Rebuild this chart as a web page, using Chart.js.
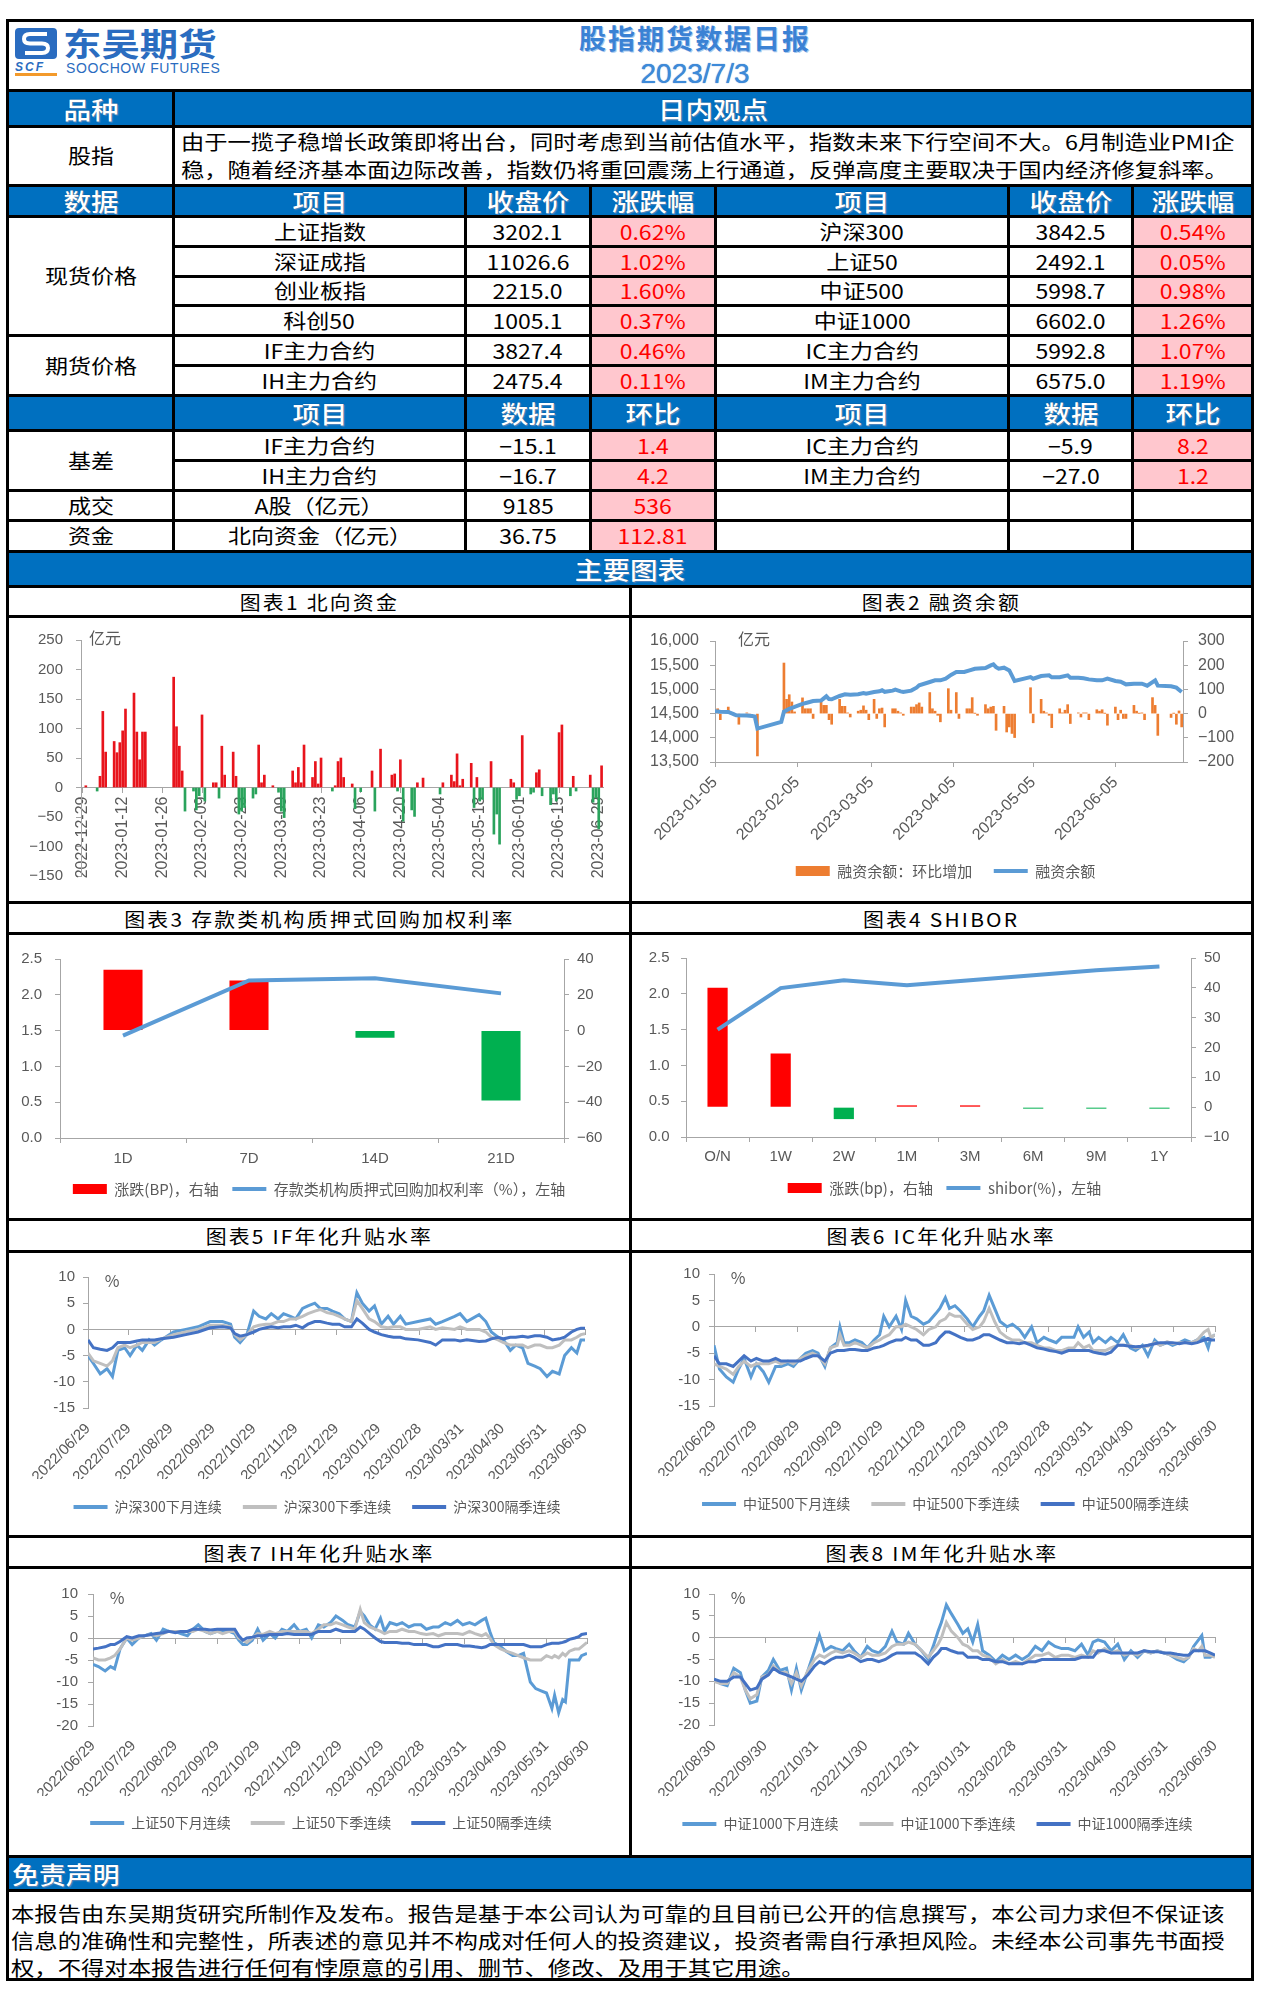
<!DOCTYPE html>
<html lang="zh-CN">
<head>
<meta charset="utf-8">
<title>股指期货数据日报</title>
<script src="https://cdn.jsdelivr.net/npm/chart.js@4.4.1/dist/chart.umd.min.js"></script>
<style>
  html, body { margin: 0; padding: 0; background: #fff; }
  #page { position: relative; width: 1262px; height: 1997px; overflow: hidden;
          font-family: 'Noto Sans CJK SC', sans-serif; color: #000; }
  .grid { position: absolute; left: 6px; display: grid; gap: 3px; padding: 3px; background: #000; }
  .grid > div { background: #fff; display: flex; align-items: center; justify-content: center;
                position: relative; overflow: hidden; white-space: nowrap; font-size: 20px; line-height: 1; }
  .grid i { font-style: normal; display: inline-block; transform: scaleX(1.15); }
  .grid > div.blue { background: #0070c0; color: #fff; font-size: 24px; font-weight: 500;
                     text-shadow: 0 0 1px #0b3d6e, 1px 1px 1px #5a8fc7; }
  .grid > div.up { background: #ffc7ce; color: #ff0000; }
  #tbl { top: 19px;
         grid-template-columns: 163px 289px 122px 122px 290px 121px 117px;
         grid-template-rows: 67px 33px 56px 28px 27px 27px 26px 27px 27px 27px 32px 27px 27px 27px 28px 32px; }
  .head .icon { position: absolute; left: 6px; top: 6px; }
  .head .cn { position: absolute; left: 54px; top: 4px; font-size: 32px; font-weight: 700; color: #2a6cc0;
              transform: scaleX(1.2); transform-origin: left center; line-height: 32px; }
  .head .scf { position: absolute; left: 6px; top: 39px; width: 42px; font: italic 700 12px 'Liberation Sans', sans-serif;
               color: #2a6cc0; border-bottom: 3px solid #f39a2b; letter-spacing: 2px; line-height: 12px; }
  .head .en { position: absolute; left: 57px; top: 39px; font: 14px 'Liberation Sans Narrow', sans-serif;
              letter-spacing: 0.6px; color: #2a6cc0; line-height: 14px; }
  .head .title { position: absolute; left: 686px; transform: translateX(-50%); color: #3b82d4; }
  .head .t1 { top: 1px; font-size: 27px; font-weight: 700; letter-spacing: 2px; line-height: 30px;
              text-shadow: 1px 1px 0 #a9c9ef; }
  .head .t2 { top: 37px; font: 28px 'Liberation Sans', sans-serif; line-height: 30px; color: #3d8ad9;
              text-shadow: 0 0 1px #2a6cc0; }
  .view { justify-content: flex-start !important; flex-direction: column; align-items: flex-start !important;
          padding: 0 0 0 6px; }
  .view span, .note span { display: block; transform-origin: left center; }
  .view span { line-height: 28px; transform: scaleX(1.163); }
  #charts { top: 585px; grid-template-columns: 620px 619px;
            grid-template-rows: 27px 283px 28px 283px 29px 282px 28px 286px; }
  #charts > div.ttl { font-size: 19px; letter-spacing: 2px; }
  #charts > div.ttl i { transform: scaleX(1.1); }
  #charts canvas { display: block; }
  .unit { position: absolute; transform: translate(-50%, -50%); font-size: 16px; color: #595959; }
  #foot { top: 1855px; grid-template-columns: 1242px; grid-template-rows: 31px 86px; }
  #foot > div.blue { justify-content: flex-start; padding-left: 3px; }
  #foot > div.blue i { transform-origin: left center; transform: scaleX(1.12); }
  .note { justify-content: flex-start !important; align-items: flex-start !important; flex-direction: column;
          padding: 8px 0 0 2px; box-sizing: border-box; }
  .note span { line-height: 27px; transform: scaleX(1.167); }
</style>
</head>
<body>
<div id="page">
  <div class="grid" id="tbl">
    <div class="head" style="grid-column: 1 / 8;">
      <svg class="icon" width="42" height="31" viewBox="0 0 42 31">
        <rect x="0" y="0" width="42" height="31" rx="4" fill="#2a6cc0"/>
        <path d="M32 6 H15 Q9 6 9 11 Q9 15.5 15 15.5 H27 Q33 15.5 33 20 Q33 25 27 25 H10"
              stroke="#fff" stroke-width="4" fill="none"/>
      </svg>
      <div class="cn">东吴期货</div>
      <div class="scf">SCF</div>
      <div class="en">SOOCHOW FUTURES</div>
      <div class="title t1">股指期货数据日报</div>
      <div class="title t2">2023/7/3</div>
    </div>

    <div class="blue"><i>品种</i></div>
    <div class="blue" style="grid-column: 2 / 8;"><i>日内观点</i></div>

    <div><i>股指</i></div>
    <div class="view" style="grid-column: 2 / 8;">
      <span>由于一揽子稳增长政策即将出台，同时考虑到当前估值水平，指数未来下行空间不大。6月制造业PMI企</span>
      <span>稳，随着经济基本面边际改善，指数仍将重回震荡上行通道，反弹高度主要取决于国内经济修复斜率。</span>
    </div>

    <div class="blue"><i>数据</i></div>
    <div class="blue"><i>项目</i></div>
    <div class="blue"><i>收盘价</i></div>
    <div class="blue"><i>涨跌幅</i></div>
    <div class="blue"><i>项目</i></div>
    <div class="blue"><i>收盘价</i></div>
    <div class="blue"><i>涨跌幅</i></div>

    <div style="grid-column: 1; grid-row: 5 / 9;"><i>现货价格</i></div>
    <div><i>上证指数</i></div><div><i>3202.1</i></div><div class="up"><i>0.62%</i></div>
    <div><i>沪深300</i></div><div><i>3842.5</i></div><div class="up"><i>0.54%</i></div>
    <div><i>深证成指</i></div><div><i>11026.6</i></div><div class="up"><i>1.02%</i></div>
    <div><i>上证50</i></div><div><i>2492.1</i></div><div class="up"><i>0.05%</i></div>
    <div><i>创业板指</i></div><div><i>2215.0</i></div><div class="up"><i>1.60%</i></div>
    <div><i>中证500</i></div><div><i>5998.7</i></div><div class="up"><i>0.98%</i></div>
    <div><i>科创50</i></div><div><i>1005.1</i></div><div class="up"><i>0.37%</i></div>
    <div><i>中证1000</i></div><div><i>6602.0</i></div><div class="up"><i>1.26%</i></div>

    <div style="grid-column: 1; grid-row: 9 / 11;"><i>期货价格</i></div>
    <div><i>IF主力合约</i></div><div><i>3827.4</i></div><div class="up"><i>0.46%</i></div>
    <div><i>IC主力合约</i></div><div><i>5992.8</i></div><div class="up"><i>1.07%</i></div>
    <div><i>IH主力合约</i></div><div><i>2475.4</i></div><div class="up"><i>0.11%</i></div>
    <div><i>IM主力合约</i></div><div><i>6575.0</i></div><div class="up"><i>1.19%</i></div>

    <div class="blue"></div>
    <div class="blue"><i>项目</i></div>
    <div class="blue"><i>数据</i></div>
    <div class="blue"><i>环比</i></div>
    <div class="blue"><i>项目</i></div>
    <div class="blue"><i>数据</i></div>
    <div class="blue"><i>环比</i></div>

    <div style="grid-column: 1; grid-row: 12 / 14;"><i>基差</i></div>
    <div><i>IF主力合约</i></div><div><i>−15.1</i></div><div class="up"><i>1.4</i></div>
    <div><i>IC主力合约</i></div><div><i>−5.9</i></div><div class="up"><i>8.2</i></div>
    <div><i>IH主力合约</i></div><div><i>−16.7</i></div><div class="up"><i>4.2</i></div>
    <div><i>IM主力合约</i></div><div><i>−27.0</i></div><div class="up"><i>1.2</i></div>

    <div><i>成交</i></div>
    <div><i>A股（亿元）</i></div><div><i>9185</i></div><div class="up"><i>536</i></div>
    <div></div><div></div><div></div>

    <div><i>资金</i></div>
    <div><i>北向资金（亿元）</i></div><div><i>36.75</i></div><div class="up"><i>112.81</i></div>
    <div></div><div></div><div></div>

    <div class="blue" style="grid-column: 1 / 8;"><i>主要图表</i></div>
  </div>

  <div class="grid" id="charts">
    <div class="ttl"><i>图表1 北向资金</i></div>
    <div class="ttl"><i>图表2 融资余额</i></div>
    <div><canvas id="c1" width="620" height="283"></canvas><span class="unit" style="left:96px;top:19px;">亿元</span></div>
    <div><canvas id="c2" width="619" height="283"></canvas><span class="unit" style="left:122px;top:20px;">亿元</span></div>
    <div class="ttl"><i>图表3 存款类机构质押式回购加权利率</i></div>
    <div class="ttl"><i>图表4 SHIBOR</i></div>
    <div><canvas id="c3" width="620" height="283"></canvas></div>
    <div><canvas id="c4" width="619" height="283"></canvas></div>
    <div class="ttl"><i>图表5 IF年化升贴水率</i></div>
    <div class="ttl"><i>图表6 IC年化升贴水率</i></div>
    <div><canvas id="c5" width="620" height="282"></canvas><span class="unit" style="left:103px;top:27px;">%</span></div>
    <div><canvas id="c6" width="619" height="282"></canvas><span class="unit" style="left:106px;top:24px;">%</span></div>
    <div class="ttl"><i>图表7 IH年化升贴水率</i></div>
    <div class="ttl"><i>图表8 IM年化升贴水率</i></div>
    <div><canvas id="c7" width="620" height="286"></canvas><span class="unit" style="left:108px;top:28px;">%</span></div>
    <div><canvas id="c8" width="619" height="286"></canvas><span class="unit" style="left:106px;top:28px;">%</span></div>
  </div>

  <div class="grid" id="foot">
    <div class="blue"><i>免责声明</i></div>
    <div class="note">
      <span>本报告由东吴期货研究所制作及发布。报告是基于本公司认为可靠的且目前已公开的信息撰写，本公司力求但不保证该</span>
      <span>信息的准确性和完整性，所表述的意见并不构成对任何人的投资建议，投资者需自行承担风险。未经本公司事先书面授</span>
      <span>权，不得对本报告进行任何有悖原意的引用、删节、修改、及用于其它用途。</span>
    </div>
  </div>
</div>

<script>
// ---------- data ----------

// 图表1 北向资金 (亿元)
const nbTicks = ['2022-12-29', '2023-01-12', '2023-01-26', '2023-02-09', '2023-02-23', '2023-03-09', '2023-03-23',
                 '2023-04-06', '2023-04-20', '2023-05-04', '2023-05-18', '2023-06-01', '2023-06-15', '2023-06-29'];
const nbDates = [
  '2022-12-30',
  '2023-01-03', '2023-01-04', '2023-01-05', '2023-01-06', '2023-01-09', '2023-01-10', '2023-01-11', '2023-01-12',
  '2023-01-13', '2023-01-16', '2023-01-17', '2023-01-18', '2023-01-19', '2023-01-20', '2023-01-30', '2023-01-31',
  '2023-02-01', '2023-02-02', '2023-02-03', '2023-02-06', '2023-02-07', '2023-02-08', '2023-02-09', '2023-02-10',
  '2023-02-13', '2023-02-14', '2023-02-15', '2023-02-16', '2023-02-17', '2023-02-20', '2023-02-21', '2023-02-22',
  '2023-02-23', '2023-02-24', '2023-02-27', '2023-02-28',
  '2023-03-01', '2023-03-02', '2023-03-03', '2023-03-06', '2023-03-08', '2023-03-09', '2023-03-10', '2023-03-13',
  '2023-03-14', '2023-03-15', '2023-03-16', '2023-03-17', '2023-03-20', '2023-03-21', '2023-03-22', '2023-03-23',
  '2023-03-27', '2023-03-28', '2023-03-29', '2023-03-30', '2023-03-31',
  '2023-04-03', '2023-04-04', '2023-04-06', '2023-04-10', '2023-04-11', '2023-04-13', '2023-04-17', '2023-04-18',
  '2023-04-19', '2023-04-20', '2023-04-21', '2023-04-24', '2023-04-25', '2023-04-26', '2023-04-28',
  '2023-05-04', '2023-05-05', '2023-05-08', '2023-05-09', '2023-05-10', '2023-05-11', '2023-05-12', '2023-05-15',
  '2023-05-16', '2023-05-17', '2023-05-18', '2023-05-19', '2023-05-22', '2023-05-23', '2023-05-24', '2023-05-25',
  '2023-05-29', '2023-05-30', '2023-05-31',
  '2023-06-01', '2023-06-02', '2023-06-05', '2023-06-06', '2023-06-07', '2023-06-08', '2023-06-09', '2023-06-12',
  '2023-06-13', '2023-06-14', '2023-06-15', '2023-06-16', '2023-06-19', '2023-06-20', '2023-06-21', '2023-06-26',
  '2023-06-27', '2023-06-28', '2023-06-29', '2023-06-30'
];
const nbFlow = [
  3,
  -6, 19, 129, 60, 78, 59, 76, 96,
  133, 160, 94, 47, 94, 94, 187, 103,
  70, 28, -40, -6, -38, -14, 123, -23,
  8, 8, -18, 70, 21, 60, 19, -45,
  -40, -34, -18, -11,
  72, 8, 21, 3, -8, -40, -51, 28,
  8, 34, 8, 72, 17, 44, 6, 50,
  -6, 3, 44, 50, 17,
  6, -36, -7, 28, -40, 65, 21, 23,
  -6, 47, -57, -38, -49, 8, 16,
  -11, 8, 21, 10, 57, 3, 14, 41,
  -34, 17, -23, -20, 44, -79, -45, -96,
  14, 8, -20,
  -14, 88, -11, -8, 25, 30, -14, -29,
  -11, -23, 93, 106, -14, 19, -6, 21,
  -25, -17, -70, 36.75
];

// 图表2 融资余额 (亿元), days counted from 2023-01-05
const mgTicks = ['2023-01-05', '2023-02-05', '2023-03-05', '2023-04-05', '2023-05-05', '2023-06-05'];
const mgLast = '2023-06-30';
const mgBalDay = [0, 2, 5, 7, 8, 12, 14, 15, 16, 25, 26, 28, 30, 33, 35, 37, 40, 42, 43, 44,
  47, 49, 51, 54, 56, 57, 60, 62, 63, 64, 67, 68, 70, 71, 74, 76, 77, 81, 83, 85,
  87, 89, 91, 94, 96, 98, 102, 104, 105, 106, 107, 109, 111, 113, 119, 120, 123, 126, 127, 130,
  133, 134, 137, 139, 141, 144, 146, 148, 151, 153, 155, 158, 161, 163, 166, 167, 172, 174, 176];
const mgBal = [14548, 14540, 14534, 14490, 14466, 14460, 14452, 14440, 14190, 14330, 14540, 14600, 14637, 14700, 14730, 14761, 14770, 14857, 14800, 14795,
  14864, 14898, 14890, 14900, 14926, 14910, 14946, 14960, 14981, 14950, 14975, 14995, 14960, 14946, 14975, 15036, 15084, 15153, 15187, 15187,
  15221, 15300, 15359, 15360, 15393, 15427, 15440, 15496, 15517, 15460, 15427, 15448, 15393, 15173, 15255, 15220, 15276, 15290, 15250, 15250,
  15290, 15240, 15242, 15230, 15207, 15187, 15187, 15221, 15173, 15160, 15104, 15118, 15118, 15077, 15187, 15077, 15063, 15036, 14946];
const mgChgDay = [1, 2, 5, 9, 12, 13, 16, 26, 27, 28, 29, 30, 33, 34, 35, 36, 37, 40, 41, 42, 43, 44,
  47, 48, 49, 50, 51, 54, 55, 56, 57, 58, 60, 61, 62, 63, 64, 67, 68, 69, 70, 71,
  74, 75, 76, 77, 78, 81, 82, 83, 84, 85, 88, 89, 91, 92, 95, 96, 97, 98, 99,
  102, 103, 104, 105, 106, 109, 110, 111, 112, 113, 119, 120, 123, 124, 125, 126, 127,
  130, 131, 132, 133, 134, 137, 138, 139, 140, 141, 144, 145, 146, 147, 148,
  151, 152, 153, 154, 155, 158, 159, 160, 161, 162, 165, 166, 167, 172, 173, 174, 175, 176];
const mgChg = [20, -25, 27, -44, 3, -7, -175, 209, 59, 78, 48, 7, 65, 20, 20, 20, -20, 48, 34, 34, -25, -44,
  59, 30, 30, 3, -14, 10, 14, 32, 14, -25, 59, -20, 20, 23, -55, 20, 20, 10, 3, -7,
  27, 27, 37, 44, 27, 87, 20, 10, -7, -34, 103, 14, 87, -20, 20, 20, 66, 1, -7,
  37, 20, 27, 30, -69, 30, -76, -55, -82, -99, 107, -38, 59, 10, 3, -7, -58,
  20, 3, 14, 37, -41, 3, -14, 3, 3, -25, 16, 10, 16, 1, -48,
  27, -25, 14, -20, -20, 34, 10, 1, 3, -25, 66, 34, -90, -16, 1, -44, 11, -55];

// 图表3 存款类机构质押式回购加权利率
const repoTerms = ['1D', '7D', '14D', '21D'];
const repoRate = [1.43, 2.20, 2.23, 2.02];   // %, left axis
const repoChg = [34, 28, -4, -39];           // BP, right axis

// 图表4 SHIBOR
const shiborTerms = ['O/N', '1W', '2W', '1M', '3M', '6M', '9M', '1Y'];
const shibor = [1.50, 2.08, 2.19, 2.12, 2.19, 2.26, 2.33, 2.38];
const shiborChg = [40, 18, -4, 0.6, 0.6, -0.5, -0.5, -0.5];

// 图表5-7 ticks, days counted from 2022/06/29
const basisTicks = ['2022/06/29', '2022/07/29', '2022/08/29', '2022/09/29', '2022/10/29', '2022/11/29', '2022/12/29',
                    '2023/01/29', '2023/02/28', '2023/03/31', '2023/04/30', '2023/05/31', '2023/06/30'];

// 图表5 IF
const ifDays = [0, 4, 9, 14, 18, 22, 27, 31, 36, 40, 45, 49, 54, 63, 72, 81, 90, 99, 105, 108,
  112, 117, 122, 126, 131, 135, 140, 144, 149, 153, 158, 162, 167, 171, 176, 180, 185, 189, 194, 198,
  202, 207, 211, 216, 221, 225, 230, 234, 243, 252, 256, 261, 270, 274, 279, 288, 293, 297, 302, 306,
  311, 315, 320, 324, 329, 333, 338, 342, 347, 351, 356, 360, 363, 366];
const ifNextMonth = [-5, -6.5, -8.5, -7.5, -9, -4, -3.5, -5, -3, -4, -2, -3, -2, -0.5, 0, 0.5, 1.5, 1.5, 1, -1.5,
  -2.5, -1, 3.5, 2.5, 2, 3, 2, 3, 2.5, 2, 4, 4.5, 5, 4, 4, 3.5, 3, 2, 1.5, 7,
  5, 3.5, 4.5, 1, 2.5, 1, 2.5, 1, 1.5, 2, 1, 1.5, 2.5, 3, 1.5, 2.8, 1.5, -0.5, -1.5, -2,
  -4, -3, -3.5, -6.5, -7, -7.5, -9, -8, -8.5, -5, -3.5, -4.5, -2, -2];
const ifNextQuarter = [-4.5, -6, -6.5, -7, -6, -3.5, -3, -3.5, -3, -2.5, -2.5, -2.5, -1.8, -1, -0.5, 0, 0.8, 0.8, 0.5, -1,
  -2, -1, 0.5, 0.8, 1, 1, 1.5, 1.5, 2, 2, 2.5, 3, 3.5, 3.8, 3.2, 3, 2.5, 2, 1.5, 5.5,
  4, 2, 1.5, 0.5, 0.3, 0.5, 0.5, 0, 0, 0.5, 0, 0.3, 0, 0.5, 0, 0, -0.5, -1.5, -2, -2.5,
  -3, -3, -3, -3.5, -3, -3, -3.5, -3.5, -3, -2, -2, -1.5, -1, -0.8];
const ifFarQuarter = [-2, -3.5, -3.8, -4, -3.5, -2.5, -2.5, -2.5, -2.2, -2, -2, -2, -1.8, -1.5, -1, -0.5, 0.3, 0.5, 0.3, -0.8,
  -1.3, -1, -0.5, 0, 0.3, 0.5, 0.3, 0.5, 0.5, 0.8, 0.3, 1, 1.5, 1.5, 1.2, 1, 1, 0.5, 0.5, 2,
  1.2, 0, -0.5, -1, -1.3, -1.5, -1.5, -1.8, -2, -2.5, -3, -2, -2, -2.2, -2, -2.3, -2.2, -1.8, -1.5, -1.8,
  -1.5, -1.5, -1.3, -1.5, -1.2, -1.2, -1.5, -2, -1.8, -1.5, -0.5, 0, 0.2, 0.2];

// 图表6 IC
const icDays = [0, 4, 9, 14, 18, 22, 27, 31, 36, 40, 45, 49, 54, 58, 63, 67, 72, 76, 81, 85,
  90, 92, 95, 99, 103, 108, 112, 117, 121, 124, 128, 133, 137, 140, 144, 148, 153, 157, 162, 165,
  169, 172, 176, 180, 185, 189, 194, 197, 201, 205, 209, 214, 218, 223, 227, 232, 236, 241, 245, 250,
  254, 259, 263, 266, 270, 274, 277, 281, 286, 290, 295, 299, 304, 308, 313, 317, 322, 326, 331, 335,
  340, 344, 349, 353, 358, 361, 363, 366];
const icNextMonth = [-3.5, -8, -9.5, -10.5, -8, -6, -9.5, -7, -8.5, -10.5, -7.5, -7.5, -7, -7.5, -6, -5, -4.5, -5, -7.5, -4,
  -3, 0, -3, -3, -2.5, -3, -4, -2.5, -1.5, 2, 0, 2, -0.5, 5, 2, 1.5, 0.5, 1, 2.5, 3.5,
  5.5, 3.5, 4, 3, 1.5, 0, 2, 3, 6, 3.5, 1, 0, 0.5, -0.5, -2, 0, -3, -2, -2.5, -3,
  -2, -2, -2, 0, -2, -1, -3, -2, -3, -2, -3, -1.5, -4, -4.5, -3.5, -5.5, -2.5, -3.5, -3, -3.5,
  -3, -2.5, -3, -2.5, -2, -4, -2, -1.5];
const icNextQuarter = [-7, -7.5, -8, -9, -7.5, -6.5, -7.5, -7, -7, -7, -6.5, -7, -6.5, -7, -6, -5.5, -5, -5.5, -7, -4,
  -3.5, -1.5, -3.5, -3.5, -3, -3.5, -4, -3, -2.5, -2, -1.5, 0, 0, 0.5, 0, -0.5, -1.5, -0.5, 0, 1,
  1.5, 2.5, 2, 2, 0.5, -0.5, 0, 1, 3.5, 1, -1, -2, -2.5, -2.5, -3, -3, -3.5, -4, -4, -4.5,
  -4.5, -4, -4, -3, -4, -3.5, -4.5, -4.5, -4.5, -4, -3.5, -3.5, -3.5, -4, -3.7, -3.7, -3, -3.5, -2.8, -3.2,
  -3, -3, -3, -2.5, -1, -0.5, -2, -1.5];
const icFarQuarter = [-5.5, -7, -7, -7.5, -6.5, -5.5, -6.5, -6, -6.5, -6.5, -6, -6.5, -6.5, -6.5, -6.5, -6, -5.5, -5.5, -6.5, -5,
  -4.5, -4.5, -4.5, -4.3, -4.3, -4.5, -4.5, -4, -3.8, -3.5, -3, -2.5, -2.5, -2, -2.5, -2.5, -3.5, -3.5, -3, -2,
  -1, -1, -1.5, -2, -2.5, -2.5, -2, -1.5, -1.5, -2, -2.5, -3, -3, -3.2, -3, -3.5, -4, -4.2, -4.5, -4.7,
  -5, -4.5, -4.5, -4.5, -4.5, -4.5, -4.8, -5, -5.2, -4.8, -3.5, -3.5, -3.7, -3.8, -3.7, -3.5, -3.2, -3, -3, -3,
  -3.2, -3, -3.2, -3, -2.5, -2.2, -2.5, -2.5];

// 图表7 IH
const ihDays = [0, 4, 9, 13, 16, 20, 25, 29, 34, 38, 43, 47, 52, 56, 61, 65, 70, 74, 78, 83,
  87, 92, 96, 101, 105, 108, 111, 114, 118, 122, 126, 131, 135, 140, 144, 149, 153, 158, 162, 167,
  171, 176, 180, 185, 189, 194, 198, 201, 205, 209, 213, 216, 220, 225, 229, 234, 238, 243, 247, 252,
  256, 261, 265, 270, 274, 279, 283, 288, 291, 294, 297, 302, 306, 311, 315, 319, 324, 328, 332, 336,
  340, 342, 345, 348, 350, 353, 357, 360, 362, 366];
const ihNextMonth = [-6, -6.5, -7.5, -6.5, -7, -2.5, 0, -1.5, 0, 0.5, 1, -0.5, 2, 1.5, 1.5, 1, 0.5, 2, 3, 1.5,
  1, 1.5, 1.5, 1.5, 1, -0.5, -1.5, -1.5, -0.5, 2, -0.5, 1, 0, 2, 1.5, 3, 1.5, 2, 0, 3,
  2.5, 3.5, 5, 4, 3, 2.5, 6, 5, 3, 2, 4.5, 1.5, 3.5, 3, 3.5, 2.5, 3, 3, 2, 2.5,
  2.5, 3.5, 3, 4, 3, 3.5, 3, 4, 4.5, 1.5, -1, -2, -3, -4, -4, -3.5, -10, -11.5, -12, -12.5,
  -16, -13, -17, -14, -14.5, -5, -5, -5, -4, -3.5];
const ihNextQuarter = [-4.5, -5, -5, -4.5, -4, -2.5, 0, -0.5, 0, 0.5, 0.8, 0.5, 1, 1.5, 1.5, 1.5, 1.5, 1.5, 2, 1.5,
  1, 1.5, 1, 1.5, 1.5, 0, -0.5, -1, 0, 1, 0.8, 1.5, 1, 1.5, 1.5, 1.5, 1.5, 1.5, 1, 2,
  3, 3, 3.5, 3, 2.5, 2, 6.5, 3.5, 2.5, 2, 1.5, 1, 1.5, 1.5, 2, 1.5, 1.5, 1, 0.8, 1,
  0.5, 1, 1, 1, 0.8, 1.5, 1, 0.5, 1, 0, -1.5, -2.5, -3, -3.5, -4, -4.5, -5, -5, -5, -4,
  -4.5, -4, -4.5, -3.5, -4, -3, -2.5, -2.5, -2, -1];
const ihFarQuarter = [-2.5, -2.3, -2, -1.5, -1.5, -0.8, 0.3, 0, 0.5, 0.5, 0.8, 1, 1.2, 1.5, 1.2, 1.5, 1.5, 2, 2, 2,
  1.8, 2, 2, 2, 2, 0.5, -0.5, 0, 0.2, 0.5, 0.5, 0.8, 0.8, 0.8, 1, 0.8, 0.8, 0.8, 0.8, 1.5,
  1.5, 1.5, 2, 1.5, 1.5, 1.5, 2.5, 2, 1, 0, -0.8, -1, -1, -1, -1.2, -1.2, -1.5, -1.5, -1.5, -2,
  -2, -1.5, -1.5, -1.5, -1.8, -1.8, -2, -2.2, -2, -1.5, -1.5, -1.5, -1.5, -1.5, -1.5, -1.5, -2, -2, -2, -1.5,
  -1.2, -1.2, -1.2, -1, -0.8, -0.3, 0, 0.3, 0.8, 1];

// 图表8 IM, days counted from 2022/08/30
const imTicks = ['2022/08/30', '2022/09/30', '2022/10/31', '2022/11/30', '2022/12/31', '2023/01/31',
                 '2023/02/28', '2023/03/31', '2023/04/30', '2023/05/31', '2023/06/30'];
const imDays = [0, 4, 8, 12, 16, 19, 22, 26, 29, 33, 36, 40, 44, 47, 50, 53, 57, 61, 64, 67,
  71, 74, 78, 82, 85, 89, 93, 96, 100, 104, 108, 111, 115, 118, 122, 126, 130, 133, 136, 138,
  141, 144, 148, 151, 154, 157, 160, 163, 167, 171, 175, 179, 183, 187, 191, 195, 199, 203, 207, 211,
  215, 219, 223, 227, 230, 233, 237, 241, 245, 249, 253, 257, 261, 265, 269, 273, 277, 281, 285, 288,
  291, 294, 296, 298, 301, 304];
const imNextMonth = [-9.5, -10.5, -11, -7, -8, -12, -15, -14.5, -9, -7.5, -5, -7.5, -7, -12, -7, -12, -7.5, -3, 0.5, -3,
  -2, -2.5, -3, -1.5, -3, -4.5, -2, -3, -3.5, -2, 1.5, -1, -1.5, 1, -1.5, -3, -5, -2, 1.5, 3.5,
  7.5, 5.5, 3, 1, 2, -1, 3, -3, -4, -5.5, -4, -5, -4, -5, -4, -2, -3, -1, -2, -2.5,
  -2.5, -3, -1.5, -4, -1, -0.5, -1, -3, -1.5, -5, -3, -4.5, -3, -3.5, -3, -3.5, -4, -5, -5.5, -4.5,
  -2, -0.5, 0.5, -4.5, -4.5, -4];
const imNextQuarter = [-10, -10.5, -10.5, -8, -9, -12, -14, -13, -9, -8.5, -6.5, -8, -8, -10.5, -8, -11, -7.5, -5, -4, -4.5,
  -3.5, -3, -3.5, -3, -3.5, -4.5, -3.5, -4, -4, -3.5, -2, -1.5, -1.5, -1, -1.5, -3, -4.5, -3, -1.5, 0,
  3.5, 1.5, 0, -1.5, -2, -3, -3, -4, -4.5, -6, -5, -6, -5.5, -6, -5, -4, -4, -3.5, -4.5, -4,
  -4, -4.5, -4, -4.5, -3, -3.5, -2.5, -3.5, -3, -4, -3.5, -4, -3, -3.5, -3, -3.5, -4, -4.5, -5, -4.5,
  -2.5, -3, -2, -4, -4, -4.5];
const imFarQuarter = [-9.5, -10, -10, -9, -9, -10.5, -12, -11.5, -9.5, -8.5, -7, -8, -8.5, -9, -9.5, -10, -8.5, -6.5, -5.5, -6,
  -5, -4.5, -4.5, -4, -4.5, -5.5, -5, -5, -5.5, -5, -4, -3.5, -3.5, -3.5, -3.5, -4.5, -6, -4.5, -3.5, -2.5,
  -2.5, -3, -3.5, -3.5, -4.5, -4.5, -4.5, -5, -5, -5.5, -5.5, -6, -6, -6, -5.5, -5.5, -5, -5, -5, -5,
  -5, -5, -4.5, -4.5, -4.5, -3, -3, -3.5, -3.5, -3.5, -3.5, -3.5, -3, -3.2, -3.2, -3.5, -3.5, -3.8, -4, -4,
  -3, -3, -3, -3, -3.5, -4];

// ---------- drawing ----------

const CJK = "'Noto Sans CJK SC', sans-serif";
const AXIS = '#a6a6a6';
const RED = '#ff0000', GREEN = '#00b050', BLUE = '#5b9bd5', ORANGE = '#ed7d31';
const LINE3 = ['#5b9bd5', '#bfbfbf', '#4472c4'];

Chart.defaults.font.family = "'Liberation Sans', Arial, sans-serif";
Chart.defaults.font.size = 15;
Chart.defaults.color = '#595959';

const DAY = 864e5;
const dayOf = (s, base) => Math.round((Date.parse(s.replace(/\//g, '-')) - Date.parse(base.replace(/\//g, '-'))) / DAY);
const minus = v => (v < 0 ? '\u2212' + Math.abs(v) : String(v));
const marks = () => ({ drawOnChartArea: false, color: AXIS, tickLength: 5, offset: false });

function legendItems(chart) {
  return chart.data.datasets.map((ds, i) => {
    const isLine = (ds.type || chart.config.type) === 'line';
    const c = ds.legendColor || ds.borderColor;
    return { text: ds.label, datasetIndex: i, pointStyle: isLine ? 'line' : 'rect', fillStyle: c, strokeStyle: c,
             lineWidth: isLine ? 4 : 0, lineCap: 'butt', fontColor: '#595959', hidden: false };
  });
}
function legend(size, pad) {
  return { position: 'bottom',
           labels: { usePointStyle: true, pointStyleWidth: 34, boxHeight: 10, padding: pad,
                     font: { size: size, family: CJK }, color: '#595959', generateLabels: legendItems } };
}

// 图表1
new Chart(document.getElementById('c1'), {
  type: 'bar',
  data: { datasets: [{
    data: nbDates.map((d, i) => ({ x: dayOf(d, nbTicks[0]), y: nbFlow[i] })),
    backgroundColor: nbFlow.map(v => (v >= 0 ? '#e8141c' : '#2aa35c')),
    barThickness: 2
  }] },
  options: {
    responsive: false, animation: false,
    layout: { padding: { top: 21, right: 26, bottom: 25, left: 0 } },
    plugins: { legend: { display: false }, tooltip: { enabled: false } },
    scales: {
      x: { type: 'linear', position: { y: 0 }, min: -0.7, max: 183.5, offset: false,
           afterBuildTicks: s => { s.ticks = nbTicks.map(t => ({ value: dayOf(t, nbTicks[0]) })); },
           ticks: { callback: (v, i) => nbTicks[i], minRotation: 90, maxRotation: 90, autoSkip: false,
                    padding: 4, font: { size: 16 } },
           grid: marks(), border: { color: AXIS } },
      y: { min: -150, max: 250,
           ticks: { stepSize: 50, callback: minus, padding: 13 },
           grid: marks(), border: { color: AXIS },
           afterFit: s => { s.width = 72; } }
    }
  }
});

// 图表2
const mgDay0 = mgTicks[0];
new Chart(document.getElementById('c2'), {
  type: 'bar',
  data: { datasets: [
    { type: 'bar', label: '融资余额：环比增加', yAxisID: 'y1', order: 1,
      data: mgChgDay.map((d, i) => ({ x: d, y: mgChg[i] })),
      backgroundColor: ORANGE, borderColor: ORANGE, barThickness: 2 },
    { type: 'line', label: '融资余额', yAxisID: 'y', order: 0,
      data: mgBalDay.map((d, i) => ({ x: d, y: mgBal[i] })),
      borderColor: BLUE, borderWidth: 4, pointRadius: 0, tension: 0 }
  ] },
  options: {
    responsive: false, animation: false,
    layout: { padding: { top: 23, right: 0, bottom: 12.5, left: 8 } },
    plugins: { legend: legend(15, 21.5), tooltip: { enabled: false } },
    scales: {
      x: { type: 'linear', min: 0, max: dayOf(mgLast, mgDay0) + 0.5, offset: false,
           afterBuildTicks: s => { s.ticks = mgTicks.map(t => ({ value: dayOf(t, mgDay0) })); },
           ticks: { callback: (v, i) => mgTicks[i], minRotation: 45, maxRotation: 45, autoSkip: false,
                    padding: 6, font: { size: 16 } },
           grid: marks(), border: { color: AXIS },
           afterFit: s => { s.height = 80; } },
      y: { position: 'left', min: 13500, max: 16000,
           ticks: { stepSize: 500, callback: v => v.toLocaleString('en-US'), padding: 11, font: { size: 16 } },
           grid: marks(), border: { color: AXIS },
           afterFit: s => { s.width = 75; } },
      y1: { position: 'right', min: -200, max: 300,
            ticks: { stepSize: 100, callback: minus, padding: 10, font: { size: 16 } },
            grid: marks(), border: { color: AXIS },
            afterFit: s => { s.width = 68; } }
    }
  }
});

// 图表3 / 图表4: bars on the right axis, rate line on the left axis
function rateChart(id, terms, rate, chg, names, right, g) {
  new Chart(document.getElementById(id), {
    type: 'bar',
    data: { labels: terms, datasets: [
      { type: 'bar', label: names[0], yAxisID: 'y1', order: 1, data: chg,
        backgroundColor: chg.map(v => (v >= 0 ? RED : GREEN)), legendColor: RED,
        barPercentage: g.bar, categoryPercentage: 1 },
      { type: 'line', label: names[1], yAxisID: 'y', order: 0, data: rate,
        borderColor: BLUE, borderWidth: 4, pointRadius: 0, tension: 0 }
    ] },
    options: {
      responsive: false, animation: false,
      layout: { padding: g.pad },
      plugins: { legend: legend(15, 13.5), tooltip: { enabled: false } },
      scales: {
        x: { ticks: { padding: g.xPad }, grid: { ...marks(), offset: true }, border: { color: AXIS },
             afterFit: s => { s.height = 30; } },
        y: { position: 'left', min: 0, max: 2.5,
             ticks: { stepSize: 0.5, callback: v => v.toFixed(1), padding: g.yPad },
             grid: marks(), border: { color: AXIS },
             afterFit: s => { s.width = g.yW; } },
        y1: { position: 'right', min: right[0], max: right[1],
              ticks: { stepSize: right[2], callback: minus, padding: 8 },
              grid: marks(), border: { color: AXIS },
              afterFit: s => { s.width = g.y1W; } }
      }
    }
  });
}
rateChart('c3', repoTerms, repoRate, repoChg,
  ['涨跌(BP)，右轴', '存款类机构质押式回购加权利率（%），左轴'], [-60, 40, 20],
  { pad: { top: 24, right: 0, bottom: 11.5, left: 0 }, yW: 51, y1W: 65, yPad: 13, xPad: 6.5, bar: 0.31 });
rateChart('c4', shiborTerms, shibor, shiborChg,
  ['涨跌(bp)，右轴', 'shibor(%)，左轴'], [-10, 50, 10],
  { pad: { top: 23, right: 0, bottom: 12.5, left: 6 }, yW: 48, y1W: 60, yPad: 11.5, xPad: 5.5, bar: 0.32 });

// 图表5-8 annualised basis
function basisChart(id, tickDates, days, names, values, yMin, g) {
  const base = tickDates[0];
  const tickDays = tickDates.map(t => dayOf(t, base));
  const last = tickDays[tickDays.length - 1];
  const setTicks = s => { s.ticks = tickDays.map(v => ({ value: v })); };
  new Chart(document.getElementById(id), {
    type: 'line',
    data: { datasets: names.map((n, k) => ({
      label: n, xAxisID: 'x', yAxisID: 'y', order: 2 - k,
      data: days.map((d, i) => ({ x: d, y: values[k][i] })),
      borderColor: LINE3[k], borderWidth: 3, pointRadius: 0, tension: 0
    })) },
    options: {
      responsive: false, animation: false,
      layout: { padding: g.pad },
      plugins: { legend: legend(14, g.legPad), tooltip: { enabled: false } },
      scales: {
        x: { type: 'linear', min: 0, max: last, afterBuildTicks: setTicks,
             ticks: { callback: (v, i) => tickDates[i], minRotation: 45, maxRotation: 45, autoSkip: false,
                      padding: g.xPad, font: { size: 15 } },
             grid: { display: false, drawTicks: false }, border: { display: false },
             afterFit: s => { s.height = g.xH; } },
        x0: { axis: 'x', type: 'linear', position: { y: 0 }, min: 0, max: last, afterBuildTicks: setTicks,
              ticks: { display: false }, grid: marks(), border: { color: AXIS } },
        y: { min: yMin, max: 10,
             ticks: { stepSize: 5, padding: g.yPad },
             grid: marks(), border: { color: AXIS },
             afterFit: s => { s.width = g.yW; } }
      }
    }
  });
}
basisChart('c5', basisTicks, ifDays, ['沪深300下月连续', '沪深300下季连续', '沪深300隔季连续'],
  [ifNextMonth, ifNextQuarter, ifFarQuarter], -15,
  { pad: { top: 24, right: 44, bottom: 11, left: 40 }, yW: 39, yPad: 8, xH: 71, xPad: 12, legPad: 21 });
basisChart('c6', basisTicks, icDays, ['中证500下月连续', '中证500下季连续', '中证500隔季连续'],
  [icNextMonth, icNextQuarter, icFarQuarter], -15,
  { pad: { top: 21, right: 36, bottom: 14, left: 44 }, yW: 38, yPad: 9, xH: 70, xPad: 11, legPad: 21 });
basisChart('c7', basisTicks, ihDays, ['上证50下月连续', '上证50下季连续', '上证50隔季连续'],
  [ihNextMonth, ihNextQuarter, ihFarQuarter], -20,
  { pad: { top: 25, right: 42, bottom: 15, left: 46 }, yW: 38, yPad: 10, xH: 70, xPad: 11, legPad: 20 });
basisChart('c8', imTicks, imDays, ['中证1000下月连续', '中证1000下季连续', '中证1000隔季连续'],
  [imNextMonth, imNextQuarter, imFarQuarter], -20,
  { pad: { top: 25, right: 36, bottom: 14, left: 28 }, yW: 54, yPad: 9, xH: 71, xPad: 12, legPad: 21 });
</script>
</body>
</html>
